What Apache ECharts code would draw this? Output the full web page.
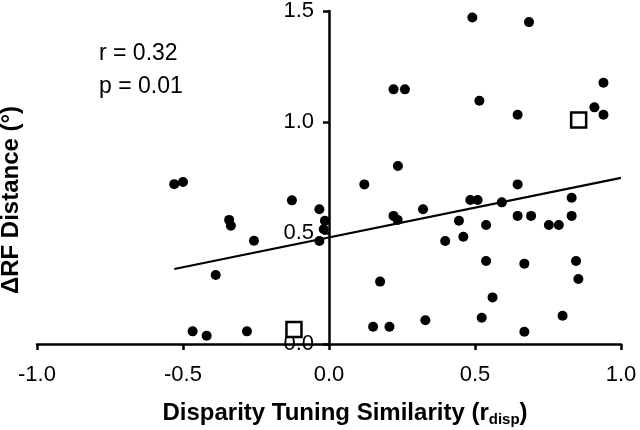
<!DOCTYPE html>
<html><head><meta charset="utf-8">
<script src="https://cdn.jsdelivr.net/npm/echarts@6/dist/echarts.min.js"></script>
<style>html,body{margin:0;padding:0;background:#fff}#c{width:640px;height:430px}</style>
</head><body><div id="c"></div>
<script>
var xTicks = [-1.0, -0.5, 0.0, 0.5, 1.0];
var yTicks = [0.0, 0.5, 1.0, 1.5];
var dotsX = [-0.53,-0.50,-0.127,-0.033,-0.014,-0.018,-0.033,-0.342,-0.336,-0.257,-0.388,-0.467,-0.419,-0.281,
  0.121,0.221,0.235,0.322,0.175,0.151,0.207,0.330,0.398,0.445,0.460,0.484,0.509,0.538,0.538,0.523,0.560,0.592,0.646,0.646,0.692,0.669,0.669,0.753,0.787,0.831,0.831,0.846,0.854,0.800,
  0.491,0.685,0.221,0.260,0.515,0.646,0.940,0.909,0.940,0.236];
var dotsY = [0.72,0.73,0.647,0.607,0.555,0.517,0.464,0.559,0.533,0.465,0.311,0.057,0.037,0.057,
  0.719,0.577,0.559,0.607,0.281,0.078,0.078,0.107,0.464,0.555,0.483,0.649,0.649,0.536,0.374,0.118,0.210,0.638,0.719,0.577,0.577,0.362,0.055,0.536,0.536,0.659,0.577,0.374,0.293,0.127,
  1.471,1.450,1.147,1.147,1.096,1.033,1.177,1.066,1.033,0.802];
var squareX = [-0.12, 0.855];
var squareY = [0.065, 1.009];
var fitX = [-0.53, 1.0];
var fitY = [0.338, 0.748];
var statsText = ['r = 0.32', 'p = 0.01'];
var xTitle = ['Disparity Tuning Similarity (r', 'disp', ')'];
var yTitle = 'ΔRF Distance (°)';

function pairs(xs, ys){ return xs.map(function(x,i){ return [x, ys[i]]; }); }
var FONT = "'Liberation Sans', Arial, sans-serif";
var GRID_L = 37, GRID_R = 19;
var chart = echarts.init(document.getElementById('c'), null, {renderer:'canvas'});
var plotW = 640 - GRID_L - GRID_R;
var zeroOffset = -plotW * (0 - xTicks[0]) / (xTicks[xTicks.length-1] - xTicks[0]);
chart.setOption({
  animation: false,
  backgroundColor: '#fff',
  grid: {left: GRID_L, right: GRID_R, top: 11, bottom: 86, containLabel: false, outerBoundsMode: 'none'},
  xAxis: {
    type: 'value', min: xTicks[0], max: xTicks[xTicks.length-1], interval: 0.5,
    axisLine: {onZero: true, lineStyle: {color: '#000', width: 2.5}},
    axisTick: {show: true, length: 6, lineStyle: {color: '#000', width: 2.5}},
    splitLine: {show: false},
    axisLabel: {color: '#000', fontSize: 22, fontFamily: FONT, margin: 20,
      formatter: function(v){ return v.toFixed(1); }}
  },
  yAxis: {
    type: 'value', min: yTicks[0], max: yTicks[yTicks.length-1], interval: 0.5,
    offset: zeroOffset,
    axisLine: {show: true, onZero: false, lineStyle: {color: '#000', width: 2.5}},
    axisTick: {show: true, length: 6, lineStyle: {color: '#000', width: 2.5}},
    splitLine: {show: false},
    axisLabel: {color: '#000', fontSize: 22, fontFamily: FONT, margin: 15,
      formatter: function(v){ return v.toFixed(1); }}
  },
  graphic: [
    {type: 'text', left: 99, top: 42, style: {text: statsText[0], fontSize: 23, fontFamily: FONT, fill: '#000'}},
    {type: 'text', left: 99, top: 75, style: {text: statsText[1], fontSize: 23, fontFamily: FONT, fill: '#000'}},
    {type: 'text', x: 345, y: 413, z: 10, style: {
      text: '{a|' + xTitle[0] + '}{s|' + xTitle[1] + '}{a|' + xTitle[2] + '}',
      textAlign: 'center', textVerticalAlign: 'middle',
      rich: {
        a: {fontSize: 24, fontWeight: 'bold', fontFamily: FONT, fill: '#000', color: '#000'},
        s: {fontSize: 15, fontWeight: 'bold', fontFamily: FONT, fill: '#000', color: '#000', padding: [14,0,0,0]}
      }}},
    {type: 'text', x: 11, y: 200, rotation: Math.PI/2, z: 10, style: {
      text: yTitle, fontSize: 24, fontWeight: 'bold', fontFamily: FONT, fill: '#000',
      textAlign: 'center', textVerticalAlign: 'middle'}}
  ],
  series: [
    {type: 'line', data: pairs(fitX, fitY), symbol: 'none', lineStyle: {color: '#000', width: 2.2}, z: 2},
    {type: 'scatter', data: pairs(dotsX, dotsY), symbol: 'circle', symbolSize: 10,
      itemStyle: {color: '#000', opacity: 1}, z: 3},
    {type: 'scatter', data: pairs(squareX, squareY), symbol: 'rect', symbolSize: 15,
      itemStyle: {color: '#fff', borderColor: '#000', borderWidth: 2.5, opacity: 1}, z: 4}
  ]
});
</script></body></html>
